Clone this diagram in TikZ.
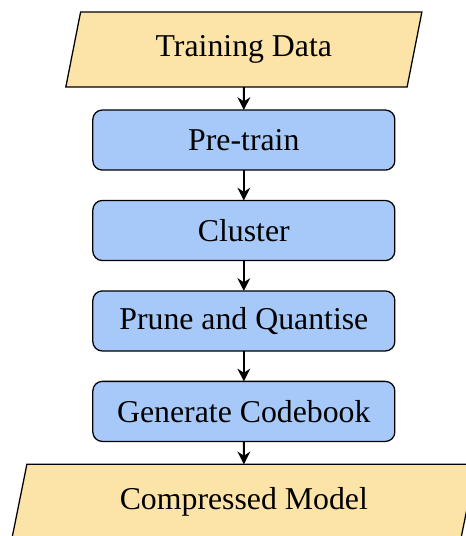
\documentclass[tikz,border=0pt]{standalone}
\usepackage{fontspec}
\setmainfont{Liberation Serif}
\usetikzlibrary{shapes.geometric, arrows.meta, positioning}
\definecolor{databeige}{RGB}{252,228,168}
\definecolor{stepblue}{RGB}{166,201,250}

\begin{document}
\begin{tikzpicture}[
        node distance=1cm, on grid,
    io/.style={trapezium, trapezium left angle=70, trapezium right angle=110, trapezium stretches body, draw, text centered, minimum height=23.6pt, inner sep=2pt, outer sep=0pt, fill=databeige},
    block/.style={rectangle, draw, rounded corners=3pt, text centered, minimum height=18.9pt, minimum width=95pt, inner sep=2pt, outer sep=0pt, fill=stepblue},
    line/.style={draw, -{Stealth[length=4pt,width=4pt]}, line width=0.6pt}
    ]
    \useasboundingbox (-76.7pt,15.6pt) rectangle (69.8pt,-153pt);

    % nodes
    \node[io, minimum width=112pt] (data) {Training Data};
    \node[block, below=of data] (pretrain) {Pre-train};
    \node[block, below=of pretrain] (cluster) {Cluster};
    \node[block, below=of cluster] (prune) {Prune and Quantise};
    \node[block, below=of prune] (codebook) {Generate Codebook};
    \node[io, below=of codebook, minimum width=146pt] (model) {Compressed Model};

    % lines
    \path[line] (data.south) -- (pretrain.north);
    \path[line] (pretrain.south) -- (cluster.north);
    \path[line] (cluster.south) -- (prune.north);
    \path[line] (prune.south) -- (codebook.north);
    \path[line] (codebook.south) -- (model.north);

\end{tikzpicture}
\end{document}
